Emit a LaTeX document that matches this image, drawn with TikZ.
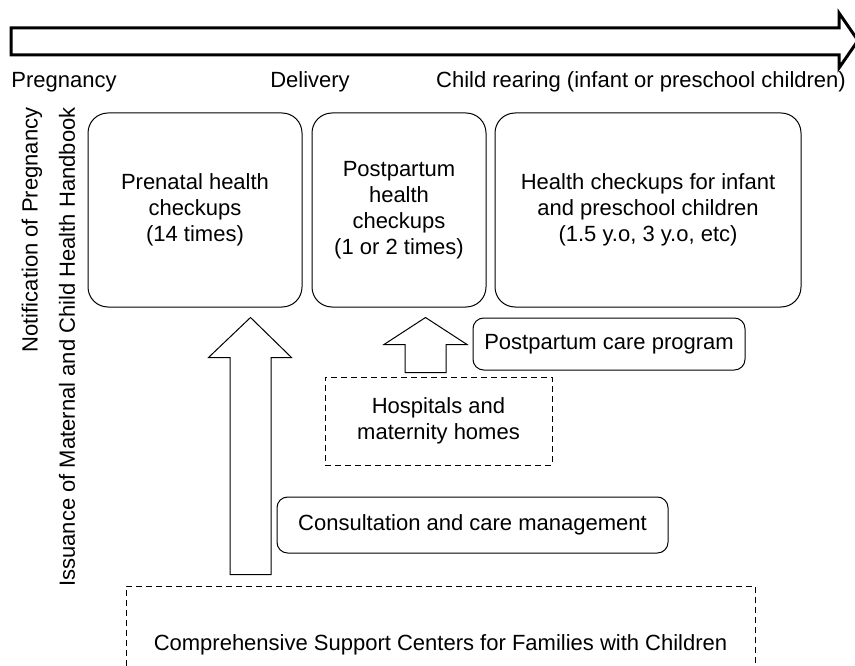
\documentclass[tikz,border=0pt]{standalone}
\usepackage{fontspec}
\setmainfont{Liberation Sans}
\usetikzlibrary{calc}
\begin{document}
\begin{tikzpicture}[x=0.75pt,y=-0.75pt,
    font=\fontsize{16.5}{19.5}\selectfont,
    bigbox/.style={draw,rounded corners=15pt,align=center,line width=0.75pt},
    smallbox/.style={draw,rounded corners=8pt,align=center,line width=0.75pt},
    dashbox/.style={draw,dash pattern=on 4.5pt off 3pt,align=center,line width=0.75pt},
    blockarrow/.style={draw,fill=white,line width=0.75pt}]
  \path[use as bounding box,clip] (0,0) rectangle (855,666);
  \draw[line width=2.25pt] (11,28) -- (839,28) -- (839,13) -- (858,40.5)
    -- (839,68) -- (839,55) -- (11,55) -- cycle;
  \draw
    (64,82) node (preg){Pregnancy}
    (310,82) node (deliv){Delivery}
    (641,82) node (child){Child rearing (infant or preschool children)};
  \node[rotate=90] (notif) at (32,230) {Notification of Pregnancy};
  \node[rotate=90] (issue) at (67,347) {Issuance of Maternal and Child Health Handbook};
  \node[bigbox,minimum width=160.5pt,minimum height=145.5pt] (prenatal) at (195,210)
    {Prenatal health\\checkups\\(14 times)};
  \node[bigbox,minimum width=130.5pt,minimum height=145.5pt] (postpartum) at (399,210)
    {Postpartum\\health\\checkups\\(1 or 2 times)};
  \node[bigbox,minimum width=229.5pt,minimum height=145.5pt] (infant) at (648,210)
    {Health checkups for infant\\and preschool children\\(1.5 y.o, 3 y.o, etc)};
  \node[smallbox,minimum width=204pt,minimum height=39pt] (careprog) at (609,344)
    {Postpartum care program};
  \node[dashbox,minimum width=170.25pt,minimum height=66pt] (hospitals) at (438.5,421)
    {Hospitals and\\maternity homes};
  \node[smallbox,minimum width=293.25pt,minimum height=42pt] (consult) at (472.5,525)
    {Consultation and care management};
  \node[dashbox,minimum width=471.75pt,minimum height=88.5pt] (centers) at (440.5,645)
    {Comprehensive Support Centers for Families with Children};
  \path (prenatal.south -| 250.5,0) ++(0,10) coordinate (bigtip);
  \path (centers.north -| 250.5,0) ++(0,-11) coordinate (bigfoot);
  \path (postpartum.south -| 425.5,0) ++(0,10) coordinate (smalltip);
  \path (hospitals.north -| 425.5,0) ++(0,-4) coordinate (smallfoot);
  \draw[blockarrow] ($(bigfoot)+(-20.5,0)$) -- ($(bigtip)+(-20.5,40)$)
    -- ($(bigtip)+(-42,40)$) -- (bigtip) -- ($(bigtip)+(41,40)$)
    -- ($(bigtip)+(20.5,40)$) -- ($(bigfoot)+(20.5,0)$) -- cycle;
  \draw[blockarrow] ($(smallfoot)+(-20.5,0)$) -- ($(smalltip)+(-20.5,27)$)
    -- ($(smalltip)+(-41.5,27)$) -- (smalltip) -- ($(smalltip)+(41.5,27)$)
    -- ($(smalltip)+(20.5,27)$) -- ($(smallfoot)+(20.5,0)$) -- cycle;
\end{tikzpicture}
\end{document}
